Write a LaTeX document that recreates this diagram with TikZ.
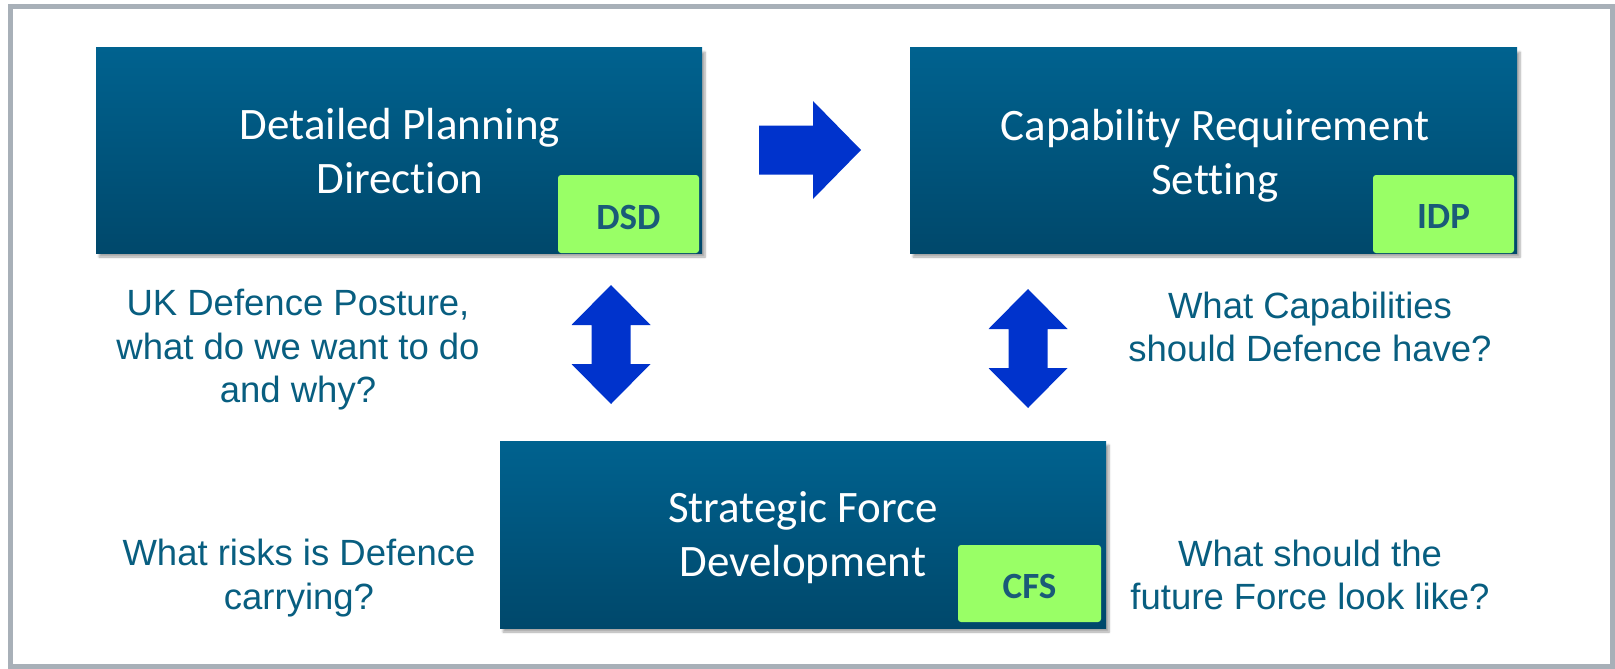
\documentclass[tikz,border=0pt]{standalone}
\usepackage{fontspec}
\setmainfont{Liberation Sans}
\newfontfamily\carlitofont[Ligatures=NoCommon]{Carlito}
\usetikzlibrary{shadows.blur}
\definecolor{boxtop}{HTML}{00628F}
\definecolor{boxbot}{HTML}{00486B}
\definecolor{lgreen}{HTML}{99FF66}
\definecolor{qtext}{HTML}{085E80}
\definecolor{tagtext}{HTML}{1A5A78}
\definecolor{arrowblue}{HTML}{0033CC}
\definecolor{framegray}{HTML}{A8B0B8}
\tikzset{
  mainbox/.style={rectangle, inner sep=0pt, top color=boxtop, bottom color=boxbot,
    blur shadow={shadow xshift=3pt, shadow yshift=-4pt, shadow blur steps=6, shadow opacity=35}},
  boxtext/.style={font=\carlitofont\fontsize{45}{54}\selectfont, text=white, align=center},
  tag/.style={rectangle, fill=lgreen, rounded corners=3pt, inner sep=0pt},
  tagtext/.style={font=\carlitofont\bfseries\fontsize{37}{44}\selectfont, text=tagtext},
  question/.style={font=\fontsize{36.5}{43.5}\selectfont, text=qtext, align=center},
  fatarrow/.style={fill=arrowblue, draw=none}
}
\begin{document}
\begin{tikzpicture}[x=1pt,y=-1pt]
\useasboundingbox (0,0) rectangle (1615,669);
\draw[framegray, line width=5pt] (10.5,6.5) rectangle (1612.5,666.5);
% boxes
\node[mainbox, minimum width=606pt, minimum height=205pt] (dpd) at (399,150.5) {};
\node[mainbox, minimum width=607pt, minimum height=205pt] (crs) at (1213.5,150.5) {};
\node[mainbox, minimum width=606pt, minimum height=187pt] (sfd) at (803,534.5) {};
\node[boxtext] (dpdt) at (400,151) {Detailed Planning\\Direction};
\node[boxtext] (crst) at (1215,156) {Capability Requirement\\Setting};
\node[boxtext] (sfdt) at (803,538) {Strategic Force\\Development};
% tags
\node[tag, minimum width=141pt, minimum height=78pt] (dsd) at (628.5,214) {};
\node[tag, minimum width=141pt, minimum height=78pt] (idp) at (1443.5,214) {};
\node[tag, minimum width=143pt, minimum height=77pt] (cfs) at (1029.5,583.5) {};
\node[tagtext] at ([yshift=-3pt]dsd.center) {DSD};
\node[tagtext] at ([yshift=-3pt]idp.center) {IDP};
\node[tagtext] at ([yshift=-3pt]cfs.center) {CFS};
% right arrow
\coordinate (ra) at (759,150);
\fill[fatarrow] (ra) ++(0,-24.5) -- ++(54,0) -- ++(0,-24.5) -- ++(48,49) -- ++(-48,49) -- ++(0,-24.5) -- ++(-54,0) -- cycle;
% double arrows
\coordinate (dl) at (611,344.5);
\coordinate (dr) at (1028,348.5);
\foreach \c in {dl,dr}{
  \fill[fatarrow] (\c) ++(-19.5,-19.5) -- ++(-20,0) -- ++(39.5,-40) -- ++(39.5,40) -- ++(-20,0)
     -- ++(0,39) -- ++(20,0) -- ++(-39.5,40) -- ++(-39.5,-40) -- ++(20,0) -- cycle;
}
% questions
\node[question] (q1) at (298,350) {UK Defence Posture,\\what do we want to do\\and why?};
\node[question] (q2) at (1310,327) {What Capabilities\\should Defence have?};
\node[question] (q3) at (299,578) {What risks is Defence\\carrying?};
\node[question] (q4) at (1310,575) {What should the\\future Force look like?};
\end{tikzpicture}
\end{document}
